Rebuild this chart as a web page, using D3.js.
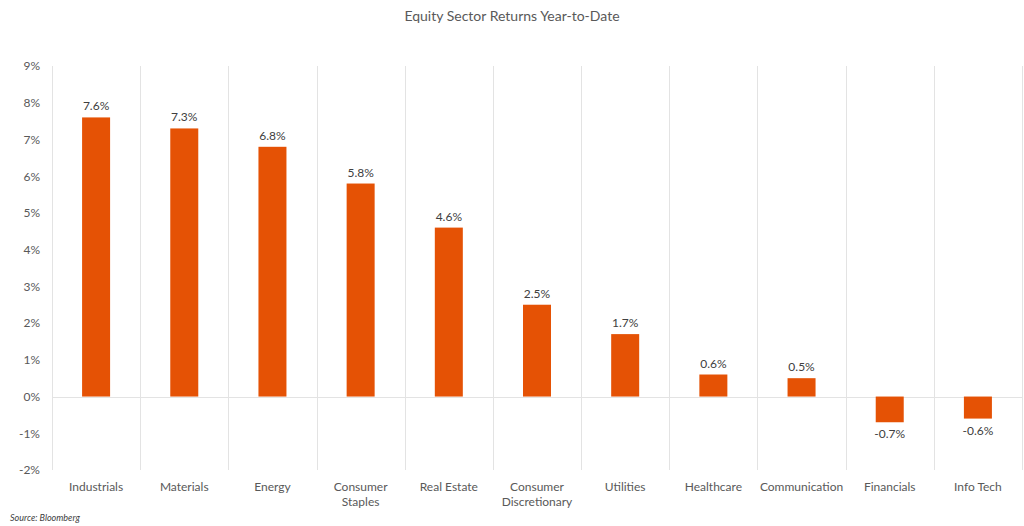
<!DOCTYPE html>
<html><head><meta charset="utf-8">
<script src="https://cdn.jsdelivr.net/npm/d3@7"></script>
<style>body{margin:0;background:#fff}svg{display:block}</style>
</head><body>
<svg id="c" width="1024" height="526"></svg>
<script>
const categories = ["Industrials","Materials","Energy","Consumer Staples","Real Estate","Consumer Discretionary","Utilities","Healthcare","Communication","Financials","Info Tech"];
const values = [7.6,7.3,6.8,5.8,4.6,2.5,1.7,0.6,0.5,-0.7,-0.6];
const yTicks = [-2,-1,0,1,2,3,4,5,6,7,8,9];
const title = "Equity Sector Returns Year-to-Date";
const source = "Source: Bloomberg";

(function () {
const svg = d3.select("#c");
const font = "Lato, 'Open Sans', sans-serif";
const txt = "#595959";
const pLeft = 52, pRight = 1022, pTop = 66, pBottom = 470;

const x = d3.scaleBand().domain(categories).range([pLeft, pRight]).paddingInner(0).paddingOuter(0);
const y = d3.scaleLinear().domain([-2, 9]).range([pBottom, pTop]);

// vertical gridlines
const bounds = categories.map(c => x(c)).concat([pRight]);
svg.append("g").selectAll("line").data(bounds).join("line")
  .attr("x1", d => Math.round(d) + 0.5).attr("x2", d => Math.round(d) + 0.5)
  .attr("y1", pTop).attr("y2", pBottom)
  .attr("stroke", "#e3e3e3").attr("stroke-width", 1);

// zero line
svg.append("line").attr("x1", pLeft).attr("x2", pRight)
  .attr("y1", Math.round(y(0)) + 0.5).attr("y2", Math.round(y(0)) + 0.5)
  .attr("stroke", "#e3e3e3");

// y axis
const yAxis = d3.axisLeft(y).tickValues(yTicks).tickFormat(d => d + "%").tickSize(0).tickPadding(12);
const ga = svg.append("g").attr("transform", `translate(${pLeft},0)`).call(yAxis);
ga.select(".domain").remove();
ga.selectAll("text").attr("fill", txt).style("font-family", font).style("font-size", "12px");

// bars
const bw = 28;
svg.append("g").selectAll("rect").data(values).join("rect")
  .attr("x", (d, i) => x(categories[i]) + x.bandwidth() / 2 - bw / 2)
  .attr("width", bw)
  .attr("y", d => y(Math.max(0, d)))
  .attr("height", d => Math.abs(y(d) - y(0)))
  .attr("fill", "#E55205");

// value labels
svg.append("g").selectAll("text").data(values).join("text")
  .attr("x", (d, i) => x(categories[i]) + x.bandwidth() / 2)
  .attr("y", d => d >= 0 ? y(d) - 7 : y(d) + 16)
  .attr("text-anchor", "middle")
  .attr("fill", "#404040").style("font-family", font).style("font-size", "12px")
  .text(d => d.toFixed(1) + "%");

// category labels
const cl = svg.append("g").selectAll("text").data(categories).join("text")
  .attr("x", d => x(d) + x.bandwidth() / 2)
  .attr("y", 491)
  .attr("text-anchor", "middle")
  .attr("fill", txt).style("font-family", font).style("font-size", "12px");
cl.each(function(d) {
  const t = d3.select(this);
  const parts = (d === "Consumer Staples" || d === "Consumer Discretionary") ? d.split(" ") : [d];
  parts.forEach((p, i) => t.append("tspan").attr("x", x(d) + x.bandwidth() / 2).attr("dy", i ? 15 : 0).text(p));
});

// title
svg.append("text").attr("x", 512).attr("y", 21).attr("text-anchor", "middle")
  .attr("fill", txt).style("font-family", font).style("font-size", "14px").text(title);

// source
svg.append("text").attr("x", 10).attr("y", 521)
  .attr("fill", "#404040").style("font-family", font).style("font-size", "9px").style("font-style", "italic").text(source);
})();
</script>
</body></html>
